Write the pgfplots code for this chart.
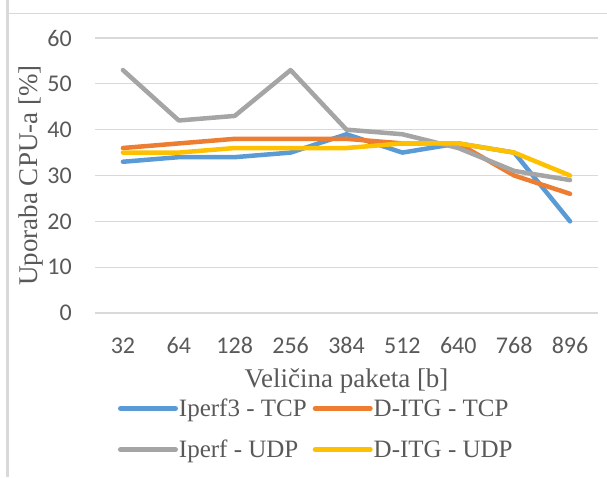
\documentclass[border=0pt]{standalone}
\usepackage{fontspec}
\setmainfont{Liberation Serif}
\newfontfamily\tickfont{Carlito}
\usepackage{pgfplots}
\pgfplotsset{compat=1.18}

\definecolor{cblue}{HTML}{5B9BD5}
\definecolor{corange}{HTML}{ED7D31}
\definecolor{cgray}{HTML}{A5A5A5}
\definecolor{cyellow}{HTML}{FFC000}
\definecolor{txt}{HTML}{595959}
\definecolor{gridc}{HTML}{D9D9D9}

\begin{document}
\begin{tikzpicture}[x=1pt,y=1pt]
\useasboundingbox (0,0) rectangle (607,477);
% chart frame (left and top edges)
\draw[gridc, line width=3pt] (7.5,0) -- (7.5,477);
\draw[gridc, line width=1pt] (9,463) -- (607,463);
\begin{axis}[
    at={(95pt,164pt)}, anchor=south west,
    scale only axis,
    width=503pt, height=275pt,
    xmin=-0.5, xmax=8.5,
    ymin=0, ymax=60,
    ytick={0,10,...,60},
    xtick=data,
    xticklabels={32,64,128,256,384,512,640,768,896},
    axis line style={draw=none},
    tick style={draw=none},
    ymajorgrids,
    grid style={gridc, line width=1.3pt},
    /pgf/number format/assume math mode=true,
    ticklabel style={font=\tickfont\fontsize{24}{26}\selectfont, text=txt, inner sep=0pt},
    yticklabel style={anchor=east, xshift=-23pt},
    xticklabel style={anchor=base, yshift=-40pt},
    xlabel={Veličina paketa [b]},
    ylabel={Uporaba CPU-a [\%]},
    label style={font=\fontsize{27}{29}\selectfont, text=txt, inner sep=0pt},
    x label style={at={(axis description cs:0.5,-0.2727)}, anchor=base},
    y label style={at={(axis description cs:-0.1153,0.5)}, anchor=base, rotate=0},
    every axis plot/.append style={line width=4.5pt, line cap=round, line join=round, mark=none},
    legend columns=2,
    legend cell align=left,
    legend image code/.code={\draw[#1, line width=5pt, line cap=round] (0pt,0pt) -- (55pt,0pt);},
    legend style={draw=none, fill=none, inner sep=0pt, outer sep=0pt,
        at={(axis description cs:0.0457,-0.309)}, anchor=north west,
        font=\fontsize{25}{27}\selectfont, text=txt,
        nodes={inner sep=1pt},
        row sep=20pt,
        /tikz/every even column/.append style={column sep=5pt}},
]
\addplot[cblue] coordinates {(0,33) (1,34) (2,34) (3,35) (4,39) (5,35) (6,37) (7,35) (8,20)};
\addplot[corange] coordinates {(0,36) (1,37) (2,38) (3,38) (4,38) (5,37) (6,37) (7,30) (8,26)};
\addplot[cgray] coordinates {(0,53) (1,42) (2,43) (3,53) (4,40) (5,39) (6,36) (7,31) (8,29)};
\addplot[cyellow] coordinates {(0,35) (1,35) (2,36) (3,36) (4,36) (5,37) (6,37) (7,35) (8,30)};
\legend{Iperf3 - TCP, D-ITG - TCP, Iperf - UDP, D-ITG - UDP}
\end{axis}
\end{tikzpicture}
\end{document}
